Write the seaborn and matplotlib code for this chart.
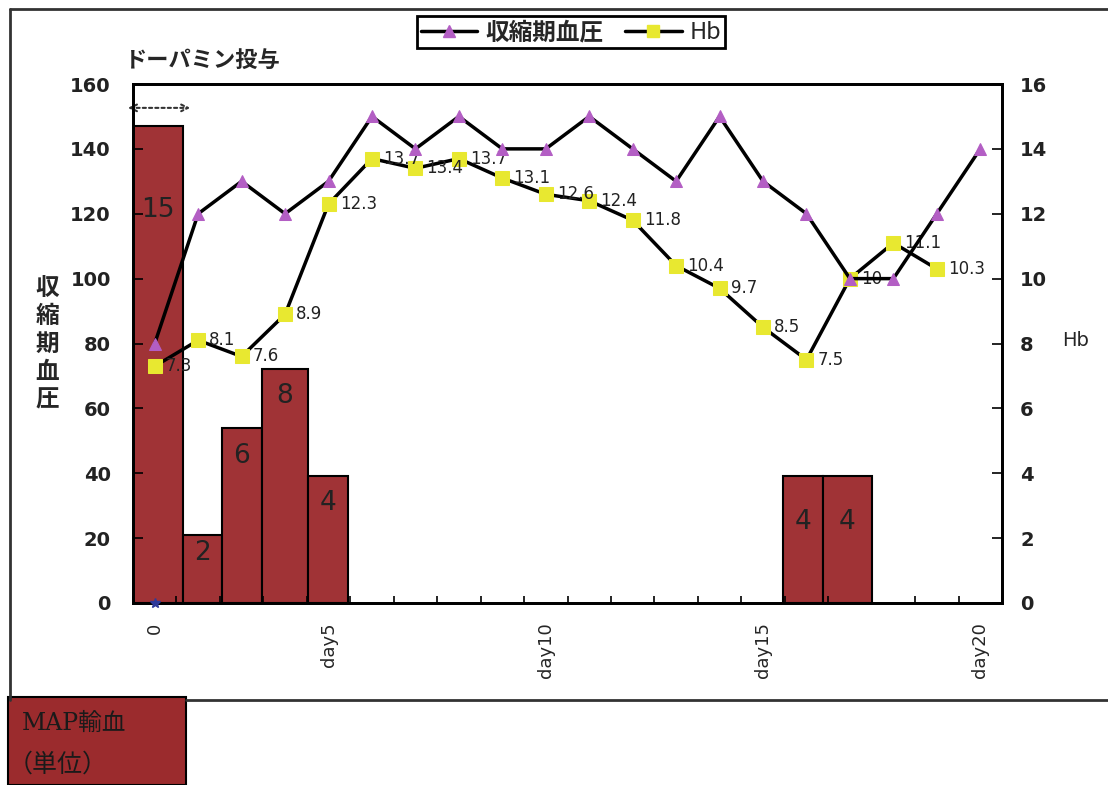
import numpy as np
import matplotlib
matplotlib.use("Agg")
import matplotlib.pyplot as plt
import seaborn as sns
from matplotlib.lines import Line2D
from matplotlib.patches import Rectangle, FancyArrowPatch

# ---------------- data ----------------
day_idx = list(range(20))
tick_pos = [0, 4, 9, 14, 19]
tick_labels = ["0", "day5", "day10", "day15", "day20"]

sbp = [80, 120, 130, 120, 130, 150, 140, 150, 140, 140,
       150, 140, 130, 150, 130, 120, 100, 100, 120, 140]
hb_idx = list(range(19))
hb = [7.3, 8.1, 7.6, 8.9, 12.3, 13.7, 13.4, 13.7, 13.1, 12.6,
      12.4, 11.8, 10.4, 9.7, 8.5, 7.5, 10, 11.1, 10.3]

# MAP transfusion bars (units), drawn on the Hb scale
bar_left = [-0.5, 0.65, 1.54, 2.46, 3.52, 14.46, 15.38]
bar_right = [0.65, 1.54, 2.46, 3.52, 4.44, 15.38, 16.51]
bar_height = [14.7, 2.1, 5.4, 7.2, 3.9, 3.9, 3.9]
bar_labels = ["15", "2", "6", "8", "4", "4", "4"]

sbp_ticks = [0, 20, 40, 60, 80, 100, 120, 140, 160]
hb_ticks = [0, 2, 4, 6, 8, 10, 12, 14, 16]

# ---------------- style ----------------
sns.set_style("white")
plt.rcParams['font.family'] = ['DejaVu Sans', 'Noto Sans CJK JP']
CJK = ['Noto Sans CJK JP', 'DejaVu Sans']

BAR_C = "#A03336"
TRI_C = "#B35EC4"
SQ_C = "#E8E830"

W, H = 1108, 785
fig = plt.figure(figsize=(W / 100, H / 100), dpi=100)
fig.patch.set_facecolor("white")

ax = fig.add_axes([133 / W, 1 - 603 / H, (1002 - 133) / W, (603 - 84) / H])
ax2 = ax.twinx()
ax.set_zorder(ax2.get_zorder() + 1)
ax.patch.set_visible(False)

# bars on Hb scale
widths = [r - l for l, r in zip(bar_left, bar_right)]
ax2.bar(bar_left, bar_height, width=widths, align="edge", color=BAR_C,
        edgecolor="black", linewidth=1.5, zorder=1)
label_off_px = [84, 18, 28, 27, 27, 46, 46]
for l, w, h, t, off in zip(bar_left, widths, bar_height, bar_labels, label_off_px):
    ax2.annotate(t, xy=(l + w / 2, h), xytext=(0, -off * 0.72),
                 textcoords="offset points", ha="center", va="center",
                 fontsize=19, color="#222222", zorder=3)

# Hb line
sns.lineplot(x=hb_idx, y=hb, ax=ax2, color="black", linewidth=2.5,
             marker="s", markersize=10, markerfacecolor=SQ_C,
             markeredgecolor=SQ_C, zorder=4)
for x, v in zip(hb_idx, hb):
    ax2.annotate(f"{v:g}", xy=(x, v), xytext=(8, 0), textcoords="offset points",
                 ha="left", va="center", fontsize=12, color="#222222", zorder=5)

# SBP line
sns.lineplot(x=day_idx, y=sbp, ax=ax, color="black", linewidth=2.5,
             marker="^", markersize=8, markerfacecolor=TRI_C,
             markeredgecolor=TRI_C, zorder=4)
ax.plot([0], [0], marker="*", color="#2E3A9A", markersize=7, clip_on=False, zorder=6)

# axes
ax.set_xlim(-0.5, 19.5)
ax.set_ylim(0, 160)
ax2.set_ylim(0, 16)
ax.set_yticks(sbp_ticks)
ax2.set_yticks(hb_ticks)
ax.set_xticks(tick_pos)
ax.set_xticklabels(tick_labels, rotation=90, fontsize=13)
ax.set_xticks(np.arange(-0.5, 20, 1), minor=True)
ax.tick_params(axis="x", which="major", bottom=True, length=0, pad=14)
ax.tick_params(axis="x", which="minor", bottom=True, direction="in", length=5,
               width=1.2, color="black")
ax.tick_params(axis="y", which="major", left=True, direction="in", length=7,
               width=1.2, color="black", labelsize=14, pad=16)
ax2.tick_params(axis="y", which="major", right=True, direction="in", length=7,
                width=1.2, color="black", labelsize=14, pad=13)
for lab in ax.get_yticklabels() + ax2.get_yticklabels():
    lab.set_fontweight("bold")
    lab.set_color("#222222")
ax.set_xlabel("")
ax.set_ylabel("")
ax2.set_ylabel("")
for a in (ax, ax2):
    for s in a.spines.values():
        s.set_color("black")
        s.set_linewidth(2)
    a.grid(False)

# dotted double arrow (dopamine period)
arr = FancyArrowPatch((-0.009, 0.954), (0.069, 0.954), transform=ax.transAxes,
                      arrowstyle="<->", mutation_scale=12, linestyle=(0, (1.5, 1.5)),
                      linewidth=1.5, color="#333333", clip_on=False)
ax.add_patch(arr)

# texts
fig.text(125 / W, 1 - 60 / H, "ドーパミン投与", family=CJK, fontsize=16,
         fontweight="bold", ha="left", va="center")
fig.text(47 / W, 1 - 344 / H, "収\n縮\n期\n血\n圧", family=CJK, fontsize=17,
         fontweight="bold", ha="center", va="center", linespacing=1.2)
fig.text(1076 / W, 1 - 340 / H, "Hb", fontsize=14, ha="center", va="center")

# legend
handles = [Line2D([0], [0], color="black", lw=2.5, marker="^", markersize=8,
                  markerfacecolor=TRI_C, markeredgecolor=TRI_C),
           Line2D([0], [0], color="black", lw=2.5, marker="s", markersize=9,
                  markerfacecolor=SQ_C, markeredgecolor=SQ_C)]
leg = fig.legend(handles, ["収縮期血圧", "Hb"], loc="center",
                 bbox_to_anchor=(571 / W, 1 - 32 / H), ncol=2, frameon=True,
                 fancybox=False, edgecolor="black", framealpha=1,
                 prop={"family": CJK, "size": 17, "weight": "bold"},
                 handlelength=2.4, handletextpad=0.35, columnspacing=0.9,
                 borderpad=0.15, borderaxespad=0)
leg.get_frame().set_linewidth(2)
leg.get_texts()[1].set_fontweight("normal")

# outer frame
fig.add_artist(Line2D([10 / W, 1], [1 - 9 / H, 1 - 9 / H], color="#333333", lw=2))
fig.add_artist(Line2D([10 / W, 10 / W], [1 - 9 / H, 1 - 700 / H], color="#333333", lw=2))
fig.add_artist(Line2D([186 / W, 1], [1 - 700 / H, 1 - 700 / H], color="#333333", lw=2))

# MAP box
fig.add_artist(Rectangle((8 / W, 0), (186 - 8) / W, (785 - 697) / H,
                         transform=fig.transFigure, facecolor="#9B2B2D",
                         edgecolor="black", linewidth=1.5))
fig.text(22 / W, 1 - 723 / H, "MAP輸血", family=['DejaVu Serif', 'Noto Sans CJK JP'],
         fontsize=17, ha="left", va="center", color="#1a1a1a")
fig.text(8 / W, 1 - 765 / H, "（単位）", family=CJK,
         fontsize=18, ha="left", va="center", color="#1a1a1a")

fig.savefig("out.png", dpi=100)
